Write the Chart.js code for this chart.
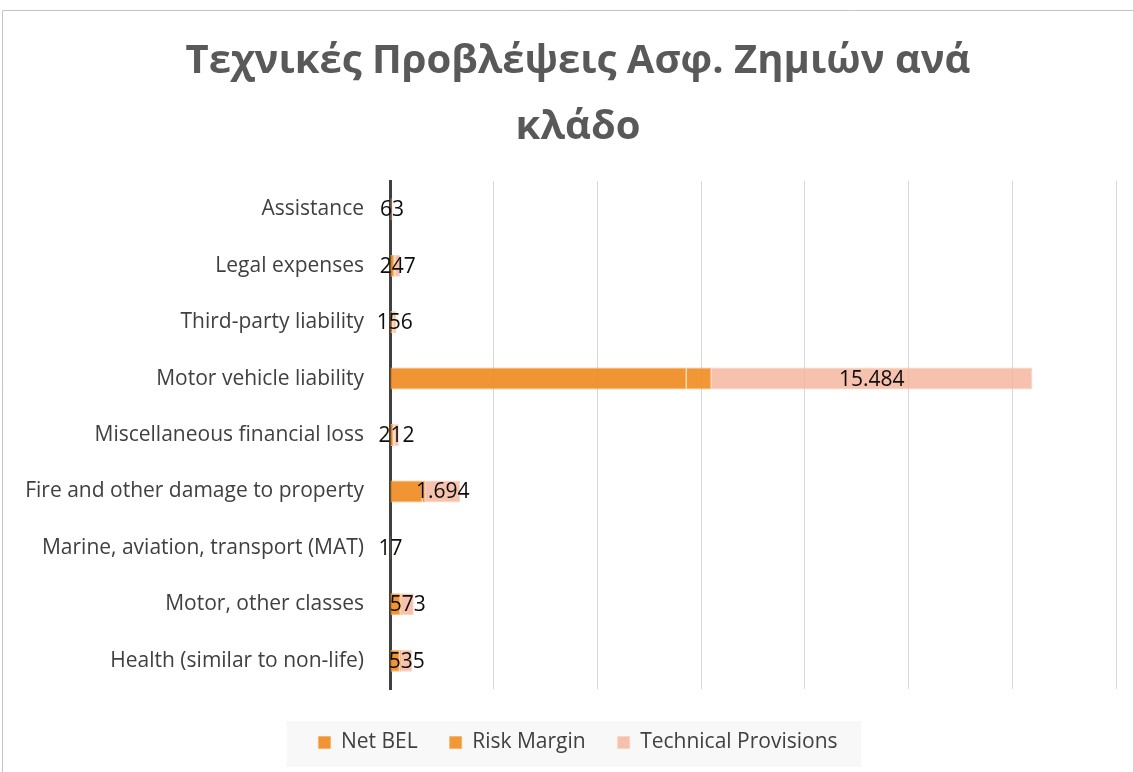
<!DOCTYPE html>
<html>
<head>
<meta charset="utf-8">
<script src="https://cdn.jsdelivr.net/npm/chart.js@4.4.1/dist/chart.umd.min.js"></script>
<style>
  html, body { margin: 0; padding: 0; background: #ffffff; }
  #wrap { position: relative; width: 1133px; height: 772px; }
</style>
</head>
<body>
<div id="wrap"><canvas id="c" width="1133" height="772"></canvas></div>
<script>
const titleLines = ['Τεχνικές Προβλέψεις Ασφ. Ζημιών ανά', 'κλάδο'];
const categories = [
  'Assistance',
  'Legal expenses',
  'Third-party liability',
  'Motor vehicle liability',
  'Miscellaneous financial loss',
  'Fire and other damage to property',
  'Marine, aviation, transport (MAT)',
  'Motor, other classes',
  'Health (similar to non-life)'
];
const netBel = [52, 215, 128, 14300, 175, 1560, 14, 500, 470];
const riskMargin = [11, 32, 28, 1184, 37, 134, 3, 73, 65];
const technicalProvisions = [63, 247, 156, 15484, 212, 1694, 17, 573, 535];
const seriesNames = ['Net BEL', 'Risk Margin', 'Technical Provisions'];
const xMax = 35000;
const xStep = 5000;

const FONT = "'Open Sans', 'Noto Sans', sans-serif";

function fmt(v) {
  return String(Math.round(v)).replace(/\B(?=(\d{3})+(?!\d))/g, '.');
}

const framePlugin = {
  id: 'frame',
  afterLayout(chart) {
    // let long category labels extend past the left layout padding without clipping
    if (chart.scales.y) chart.scales.y.left = 0;
  },
  beforeDraw(chart) {
    const ctx = chart.ctx;
    ctx.save();
    ctx.fillStyle = '#ffffff';
    ctx.fillRect(0, 0, chart.width, chart.height);
    ctx.strokeStyle = '#c4c4c4';
    ctx.lineWidth = 1;
    ctx.beginPath();
    ctx.moveTo(2.5, chart.height);
    ctx.lineTo(2.5, 10.5);
    ctx.lineTo(chart.width, 10.5);
    ctx.stroke();
    const lg = chart.legend;
    if (lg && lg.legendHitBoxes && lg.legendHitBoxes.length) {
      const boxes = lg.legendHitBoxes;
      let l = Infinity, r = -Infinity, t = Infinity, b = -Infinity;
      boxes.forEach(h => { l = Math.min(l, h.left); r = Math.max(r, h.left + h.width); t = Math.min(t, h.top); b = Math.max(b, h.top + h.height); });
      ctx.fillStyle = '#f8f8f8';
      ctx.fillRect(l - 32, t - 11, (r - l) + 56, (b - t) + 25);
    }
    ctx.restore();
  }
};

const labelPlugin = {
  id: 'tpLabels',
  afterDatasetsDraw(chart) {
    const ctx = chart.ctx;
    const meta = chart.getDatasetMeta(2);
    const ds = chart.data.datasets[2];
    ctx.save();
    ctx.font = "21px " + FONT;
    ctx.fillStyle = '#0d0d0d';
    ctx.textAlign = 'center';
    ctx.textBaseline = 'middle';
    meta.data.forEach((el, i) => {
      const p = el.getProps(['x', 'y', 'base'], true);
      const cx = (p.x + p.base) / 2;
      ctx.fillText(fmt(ds.data[i]), cx, p.y + 1);
    });
    ctx.restore();
  }
};

new Chart(document.getElementById('c'), {
  type: 'bar',
  data: {
    labels: categories,
    datasets: [
      {
        label: seriesNames[0],
        data: netBel,
        backgroundColor: 'rgba(239,138,30,0.9)',
        borderColor: 'rgba(246,178,110,0.9)',
        borderWidth: 1
      },
      {
        label: seriesNames[1],
        data: riskMargin,
        backgroundColor: 'rgba(239,140,32,0.9)',
        borderColor: 'rgba(246,180,112,0.9)',
        borderWidth: 1
      },
      {
        label: seriesNames[2],
        data: technicalProvisions,
        backgroundColor: 'rgba(244,177,150,0.78)',
        borderColor: 'rgba(250,212,196,0.9)',
        borderWidth: 1
      }
    ]
  },
  options: {
    responsive: false,
    animation: false,
    indexAxis: 'y',
    layout: { padding: { left: 40, right: 17, top: 10, bottom: 9 } },
    datasets: { bar: { barPercentage: 0.78, categoryPercentage: 0.5 } },
    scales: {
      x: {
        stacked: true,
        min: 0,
        max: xMax,
        ticks: { display: false, stepSize: xStep },
        grid: { color: '#d9d9d9', lineWidth: 1, drawTicks: false },
        border: { display: false },
        afterFit(scale) { scale.height = 11; }
      },
      y: {
        stacked: true,
        ticks: { color: '#404040', font: { family: FONT, size: 21 }, padding: 26 },
        grid: { display: false, drawTicks: false },
        border: { display: true, color: '#404040', width: 3 },
        afterFit(scale) { scale.width = 350; }
      }
    },
    plugins: {
      title: {
        display: true,
        text: titleLines,
        color: '#595959',
        font: { family: FONT, size: 40, weight: 'bold', lineHeight: 1.65 },
        padding: { top: 19, bottom: 20 }
      },
      legend: {
        position: 'bottom',
        labels: {
          color: '#404040',
          font: { family: FONT, size: 21 },
          boxWidth: 12,
          boxHeight: 12,
          padding: 32
        }
      },
      tooltip: { enabled: false }
    }
  },
  plugins: [framePlugin, labelPlugin]
});
</script>
</body>
</html>
